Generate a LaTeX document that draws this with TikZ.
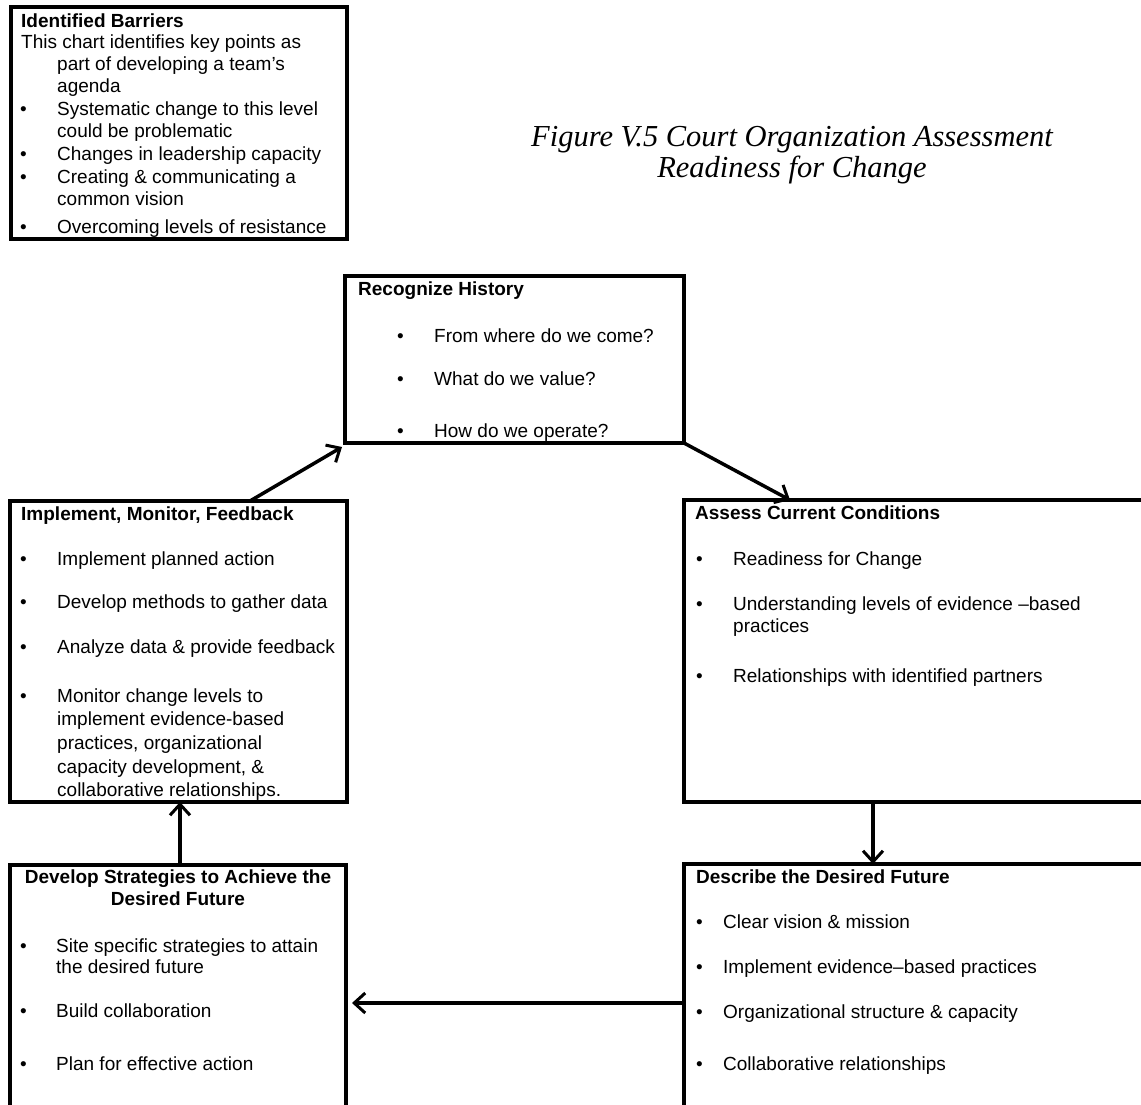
\documentclass[tikz,border=0pt]{standalone}
\usepackage{fontspec}
\setmainfont{Liberation Sans}
\newfontfamily\figfont{Liberation Serif}
\usetikzlibrary{arrows.meta}

\newcommand{\itemlines}[1]{\begin{tabular}[t]{@{}l@{}}#1\end{tabular}}

\begin{document}
\begin{tikzpicture}[x=1pt, y=-1pt,
    font=\fontsize{19}{23}\selectfont,
    box/.style={draw, line width=3.5pt, rectangle, inner sep=0pt, outer sep=0pt, anchor=north west},
    txt/.style={anchor=base west, inner sep=0pt},
    hdr/.style={txt, font=\fontsize{19}{23}\selectfont\bfseries},
    arr/.style={-{Straight Barb[length=11pt,width=20pt,line width=3pt]}, line width=3.5pt}]

    \useasboundingbox (0,0) rectangle (1141,1104);
    \clip (0,0) rectangle (1141,1104);

    % boxes
    \node[box, minimum width=336pt, minimum height=232pt] (barr) at (11,7) {};
    \node[box, minimum width=339pt, minimum height=167pt] (hist) at (345,276) {};
    \node[box, minimum width=337pt, minimum height=301pt] (impl) at (10,501) {};
    \node[box, minimum width=500pt, minimum height=302pt] (asse) at (684,500) {};
    \node[box, minimum width=336pt, minimum height=280pt] (devl) at (10,865) {};
    \node[box, minimum width=500pt, minimum height=280pt] (desc) at (684,864) {};

    \node[font=\figfont\itshape\fontsize{30.5}{31}\selectfont, align=center] (title) at (792,155)
        {Figure V.5 Court Organization Assessment\\Readiness for Change};

    % identified barriers
    \node[hdr] (barrh) at (21,27) {Identified Barriers};
    \node[txt] (barr0) at (21,48) {This chart identifies key points as};
    \node[txt, font=\fontsize{19}{22}\selectfont] (barr1) at (57,70) {\itemlines{part of developing a team’s\\agenda}};
    \foreach \y/\t [count=\i] in {115/Systematic change to this level\\could be problematic,
        160/Changes in leadership capacity, 183/Creating \& communicating a\\common vision,
        233/Overcoming levels of resistance} {
        \node[txt] (barrb\i) at (20,\y) {\textbullet};
        \node[txt, font=\fontsize{19}{22}\selectfont] (barrt\i) at (57,\y) {\itemlines{\t}};
    }

    % recognize history
    \node[hdr] (histh) at (358,295) {Recognize History};
    \foreach \y/\t [count=\i] in {342/From where do we come?, 385/What do we value?,
        437/How do we operate?} {
        \node[txt] (histb\i) at (397,\y) {\textbullet};
        \node[txt] (histt\i) at (434,\y) {\t};
    }

    % implement, monitor, feedback
    \node[hdr] (implh) at (21,520) {Implement, Monitor, Feedback};
    \foreach \y/\t [count=\i] in {565/Implement planned action, 608/Develop methods to gather data,
        653/Analyze data \& provide feedback,
        {702/Monitor change levels to\\implement evidence-based\\practices, organizational\\capacity development, \&\\collaborative relationships.}} {
        \node[txt] (implb\i) at (20,\y) {\textbullet};
        \node[txt, font=\fontsize{19}{23.7}\selectfont] (implt\i) at (57,\y) {\itemlines{\t}};
    }

    % assess current conditions
    \node[hdr] (asseh) at (695,519) {Assess Current Conditions};
    \foreach \y/\t [count=\i] in {565/Readiness for Change,
        610/Understanding levels of evidence –based\\practices,
        682/Relationships with identified partners} {
        \node[txt] (asseb\i) at (696,\y) {\textbullet};
        \node[txt, font=\fontsize{19}{22}\selectfont] (asset\i) at (733,\y) {\itemlines{\t}};
    }

    % develop strategies
    \node[anchor=base, inner sep=0pt, font=\fontsize{19}{22}\selectfont\bfseries] (devlh) at (178,883)
        {\begin{tabular}[t]{@{}c@{}}Develop Strategies to Achieve the\\Desired Future\end{tabular}};
    \foreach \y/\t [count=\i] in {952/Site specific strategies to attain\\the desired future,
        1017/Build collaboration, 1070/Plan for effective action} {
        \node[txt] (devlb\i) at (20,\y) {\textbullet};
        \node[txt, font=\fontsize{19}{21}\selectfont] (devlt\i) at (56,\y) {\itemlines{\t}};
    }

    % describe the desired future
    \node[hdr] (desch) at (696,883) {Describe the Desired Future};
    \foreach \y/\t [count=\i] in {928/Clear vision \& mission, 973/Implement evidence–based practices,
        1018/Organizational structure \& capacity, 1070/Collaborative relationships} {
        \node[txt] (descb\i) at (696,\y) {\textbullet};
        \node[txt] (desct\i) at (723,\y) {\t};
    }

    % cycle
    \draw[arr] ([xshift=240pt]impl.north west) -- ([shift={(-3pt,-4pt)}]hist.south west);
    \draw[arr] (hist.south east) -- ([xshift=106pt]asse.north west);
    \draw[arr] ([xshift=189pt]asse.south west) -- ([xshift=189pt]desc.north west);
    \draw[arr] ([yshift=-139pt]desc.north west) -- ([shift={(6pt,-138pt)}]devl.north east);
    \draw[arr] ([xshift=170pt]devl.north west) -- ([xshift=170pt]impl.south west);

\end{tikzpicture}
\end{document}
